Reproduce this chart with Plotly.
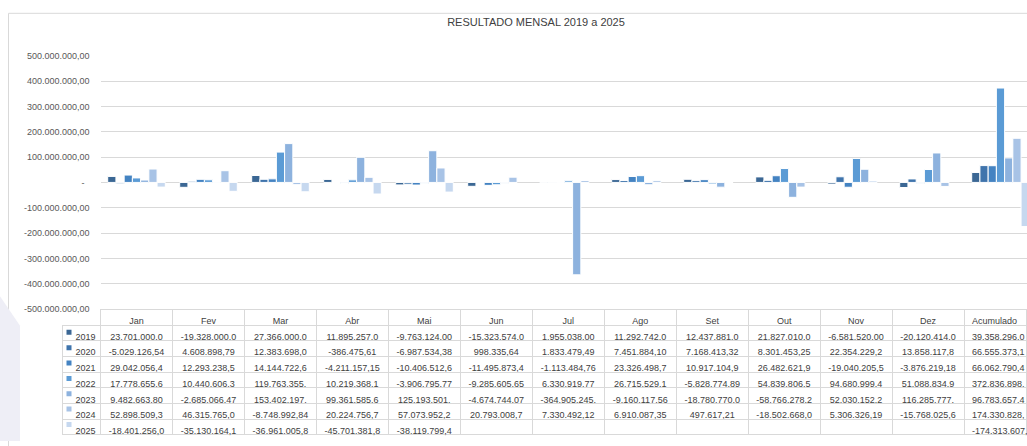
import plotly.graph_objects as go

# ---------------- data ----------------
months = ["Jan", "Fev", "Mar", "Abr", "Mai", "Jun", "Jul", "Ago", "Set", "Out", "Nov", "Dez", "Acumulado"]
years = ["2019", "2020", "2021", "2022", "2023", "2024", "2025"]

v2019 = [23701000.0, -19328000.0, 27366000.0, 11895257.0, -9763124.00, -15323574.0, 1955038.00,
         11292742.0, 12437881.0, 21827010.0, -6581520.00, -20120414.0, 39358296.0]
v2020 = [-5029126.54, 4608898.79, 12383698.0, -386475.61, -6987534.38, 998335.64, 1833479.49,
         7451884.10, 7168413.32, 8301453.25, 22354229.2, 13858117.8, 66555373.1]
v2021 = [29042056.4, 12293238.5, 14144722.6, -4211157.15, -10406512.6, -11495873.4, -1113484.76,
         23326498.7, 10917104.9, 26482621.9, -19040205.5, -3876219.18, 66062790.4]
v2022 = [17778655.6, 10440606.3, 119763355.0, 10219368.1, -3906795.77, -9285605.65, 6330919.77,
         26715529.1, -5828774.89, 54839806.5, 94680999.4, 51088834.9, 372836898.0]
v2023 = [9482663.80, -2685066.47, 153402197.0, 99361585.6, 125193501.0, -4674744.07, -364905245.0,
         -9160117.56, -18780770.0, -58766278.2, 52030152.2, 116285777.0, 96783657.4]
v2024 = [52898509.3, 46315765.0, -8748992.84, 20224756.7, 57073952.2, 20793008.7, 7330492.12,
         6910087.35, 497617.21, -18502668.0, 5306326.19, -15768025.6, 174330828.0]
v2025 = [-18401256.0, -35130164.1, -36961005.8, -45701381.8, -38119799.4, None, None,
         None, None, None, None, None, -174313607.0]

series = [v2019, v2020, v2021, v2022, v2023, v2024, v2025]
colors = ["#3B6794", "#3F74AC", "#4483C2", "#5B9BD5", "#8DB2DE", "#A8C3E6", "#C6D8EF"]

y_ticks = [500e6, 400e6, 300e6, 200e6, 100e6, 0, -100e6, -200e6, -300e6, -400e6, -500e6]


def br(v, dec=2):
    s = f"{abs(v):,.{dec}f}".replace(",", "X").replace(".", ",").replace("X", ".")
    return ("-" if v < 0 else "") + s


def cell_fmt(v):
    # mimic Excel's truncated display (max 9 significant digits shown)
    if v is None:
        return ""
    s = br(v)
    while sum(c.isdigit() for c in s) > 9:
        s = s[:-1]
    return s


def tick_fmt(v):
    return "-\u00a0\u00a0" if v == 0 else br(v)


W, H = 1027, 446
ROW_H = 15.7
HEAD_H = 16
TABLE_TOP = 311
TABLE_LEFT = 62.5
LEG_W = 38
COL_W = 72
PLOT_LEFT = TABLE_LEFT + LEG_W


def px(x):
    return x / W


def py(y):
    return 1 - y / H


fig = go.Figure()
for yr, vals, col in zip(years, series, colors):
    fig.add_trace(go.Bar(
        x=months, y=vals, name=yr, marker=dict(color=col, line=dict(color="white", width=1)),
        xaxis="x", yaxis="y"))

# legend keys of the data table (one square per series)
fig.add_trace(go.Scatter(
    x=[6.5] * len(years), y=years, mode="markers",
    marker=dict(symbol="square", size=5, color=colors, line=dict(width=0)),
    xaxis="x2", yaxis="y2", hoverinfo="skip"))

# data table under the chart
legend_col = ["\u00a0\u00a0" + y for y in years]
value_cols = [[cell_fmt(s[i]) for s in series] for i in range(len(months))]
n = len(months)
clear = "rgba(0,0,0,0)"
last_w = W - PLOT_LEFT - COL_W * (n - 1)
fig.add_trace(go.Table(
    domain=dict(x=[px(TABLE_LEFT), 1], y=[0, py(TABLE_TOP)]),
    columnwidth=[LEG_W] + [COL_W] * (n - 1) + [last_w],
    header=dict(values=[""] + months,
                align=["center"] * n + ["left"],
                line=dict(color=[clear] + ["#D9D9D9"] * n, width=1),
                fill=dict(color=[clear] + ["white"] * n),
                font=dict(family="Liberation Sans", size=9, color="#404040"),
                height=HEAD_H),
    cells=dict(values=[legend_col] + value_cols,
               align=["left"] + ["center"] * (n - 1) + ["left"],
               line=dict(color="#D9D9D9", width=1),
               fill=dict(color=[clear] + ["white"] * n),
               font=dict(family="Liberation Sans", size=9, color="#404040"),
               height=ROW_H),
))

x_hi = (W - PLOT_LEFT) / COL_W - 0.5

fig.update_layout(
    width=W, height=H,
    margin=dict(l=0, r=0, t=0, b=0),
    barmode="group", bargap=0.2, bargroupgap=0,
    showlegend=False,
    separators=",.",
    paper_bgcolor="white", plot_bgcolor="white",
    font=dict(family="Liberation Sans", size=9, color="#595959"),
    title=dict(text="RESULTADO MENSAL 2019 a 2025", x=px(536), y=py(22),
               xanchor="center", yanchor="middle",
               font=dict(family="Liberation Sans", size=11, color="#404040")),
    shapes=[
        dict(type="rect", xref="paper", yref="paper", x0=px(8.5), x1=1.05, y0=-0.05, y1=py(8.5),
             line=dict(color="#D9D9D9", width=1), fillcolor="rgba(0,0,0,0)", layer="below"),
        dict(type="path", xref="paper", yref="paper",
             path=f"M 0,{py(298)} L {px(20)},{py(328)} L {px(20)},0 L 0,0 Z",
             line=dict(width=0), fillcolor="#EEEEF6", layer="below"),
    ],
    xaxis=dict(domain=[px(PLOT_LEFT), 1], range=[-0.5, x_hi], showticklabels=False,
               showgrid=False, zeroline=False, ticks="", showline=False),
    yaxis=dict(domain=[py(TABLE_TOP), py(52)], range=[-5e8, 5e8],
               tickmode="array", tickvals=y_ticks, ticktext=[tick_fmt(v) for v in y_ticks],
               showgrid=True, gridcolor="#D9D9D9", gridwidth=1,
               zeroline=True, zerolinecolor="#D9D9D9", zerolinewidth=1,
               showline=False, ticks="", ticklabelstandoff=10,
               tickfont=dict(family="Liberation Sans", size=9, color="#595959")),
    xaxis2=dict(domain=[px(TABLE_LEFT), px(PLOT_LEFT)], range=[0, LEG_W], visible=False, anchor="y2"),
    yaxis2=dict(domain=[py(TABLE_TOP + HEAD_H + ROW_H * len(years)), py(TABLE_TOP + HEAD_H)],
                type="category", categoryorder="array", categoryarray=years,
                range=[len(years) - 0.5, -0.5], visible=False, anchor="x2"),
)

fig.write_html("out.html",
               config={"displayModeBar": False},
               post_script="document.body.style.margin='0';document.body.style.overflow='hidden';")
